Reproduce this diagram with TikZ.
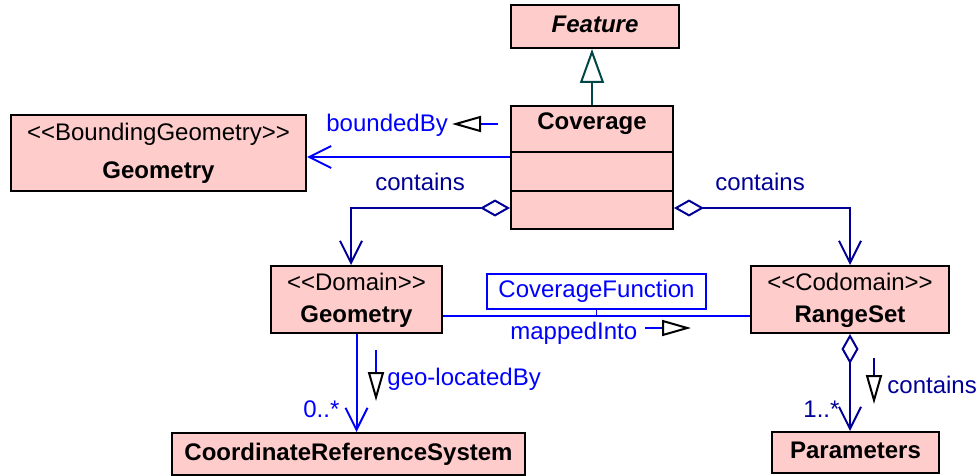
\documentclass[tikz,border=0pt]{standalone}
\usepackage{fontspec}
\setmainfont{Liberation Sans}
\usetikzlibrary{arrows.meta, calc}
\definecolor{umlPink}{RGB}{255,204,204}
\definecolor{umlNavy}{RGB}{0,0,150}
\definecolor{umlBlue}{RGB}{0,0,255}
\definecolor{umlTeal}{RGB}{0,70,70}
\tikzstyle{class} = [rectangle, draw=black, line width=1pt, fill=umlPink, align=center, inner sep=0pt, text depth=0.21em, font=\fontsize{12}{16}\selectfont]
\tikzstyle{lbl} = [inner sep=0pt, anchor=base west, font=\fontsize{12}{14}\selectfont]
\tikzstyle{assoc} = [line width=1pt, draw=umlBlue]
\tikzstyle{aggr} = [line width=1pt, draw=umlNavy]
\tikzset{
  barb/.tip={Straight Barb[length=11pt, width=11pt]},
  dia/.tip={Diamond[open, fill=white, length=15pt, width=8.5pt]},
  dir/.tip={Triangle[length=14.5pt, width=8pt, color=black, fill=white, line width=1pt]}
}

\begin{document}
\begin{tikzpicture}[x=0.5pt, y=-0.5pt]
\useasboundingbox (0,0) rectangle (979,476);

% Classes
\node[class, minimum width=84pt, minimum height=21.5pt] (feature) at (595,26.5) {\bfseries\itshape Feature};
\node[class, minimum width=81pt, minimum height=61.5pt] (coverage) at (592,167.5) {};
\node[class, minimum width=147.5pt, minimum height=38pt] (boundGeom) at (158.5,153) {<{}<BoundingGeometry>{}>\\[3pt] \textbf{Geometry}};
\node[class, minimum width=85.5pt, minimum height=33.5pt] (domain) at (356.5,299.5) {<{}<Domain>{}>\\ \textbf{Geometry}};
\node[class, minimum width=99pt, minimum height=33.5pt] (rangeSet) at (850,299.5) {<{}<Codomain>{}>\\ \textbf{RangeSet}};
\node[class, minimum width=176.5pt, minimum height=21pt] (crs) at (348.5,454) {\textbf{CoordinateReferenceSystem}};
\node[class, minimum width=83.5pt, minimum height=20.5pt] (params) at (855.5,452.5) {\textbf{Parameters}};

% Coverage compartments
\node[lbl, anchor=base] (covTitle) at ([yshift=-12pt]coverage.north) {\bfseries Coverage};
\draw[line width=1pt] ([yshift=-23.5pt]coverage.north west) -- ([yshift=-23.5pt]coverage.north east);
\draw[line width=1pt] ([yshift=-43pt]coverage.north west) -- ([yshift=-43pt]coverage.north east);

% Association class
\node[draw=umlBlue, line width=0.75pt, minimum width=109.5pt, minimum height=17.5pt, inner sep=0pt, text=umlBlue, font=\fontsize{12}{14}\selectfont] (covFunc) at (596.5,291.5) {CoverageFunction};

% Connectors
\draw[line width=1pt, umlTeal, -{Triangle[open, length=17pt, width=12pt]}] (coverage.north) -- (coverage.north |- feature.south);
\draw[assoc, -barb] ([yshift=5.25pt]coverage.west) -- ([yshift=-2pt]boundGeom.east);
\draw[aggr, dia-barb] ([yshift=11pt]coverage.south west) -| ([xshift=-2.75pt]domain.north);
\draw[aggr, dia-barb] ([yshift=11pt]coverage.south east) -| (rangeSet.north);
\draw[assoc] ([yshift=-8.25pt]domain.east) -- ([yshift=-8.25pt]rangeSet.west);
\draw[assoc, line width=0.75pt] (covFunc.south) -- ++(0pt,-3.5pt);
\draw[assoc, -barb] (domain.south) -- (domain.south |- crs.north);
\draw[aggr, dia-barb] (rangeSet.south) -- (rangeSet.south |- params.north);

% Labels
\node[lbl, text=umlBlue] (lbBounded) at (326,132) {boundedBy};
\node[lbl, text=umlNavy] (lbContainsL) at (375,190) {contains};
\node[lbl, text=umlNavy] (lbContainsR) at (715,190) {contains};
\node[lbl, text=umlBlue] (lbMapped) at (510,339) {mappedInto};
\node[lbl, text=umlBlue] (lbGeo) at (387,385) {geo-locatedBy};
\node[lbl, text=umlBlue] (lbMultCrs) at (303,417) {0..*};
\node[lbl, text=umlNavy] (lbMultPar) at (803,417) {1..*};
\node[lbl, text=umlNavy] (lbContainsP) at (887,393) {contains};

% Reading direction markers
\coordinate (bndA) at (498,124); \coordinate (bndB) at (452,124);
\coordinate (mapA) at (645,328); \coordinate (mapB) at (691,328);
\coordinate (geoA) at (376,350); \coordinate (geoB) at (376,401);
\coordinate (parA) at (874,358); \coordinate (parB) at (874,404);
\draw[assoc, -dir] (bndA) -- (bndB);
\draw[assoc, -dir] (mapA) -- (mapB);
\draw[assoc, -dir] (geoA) -- (geoB);
\draw[aggr, -dir] (parA) -- (parB);

\end{tikzpicture}
\end{document}
